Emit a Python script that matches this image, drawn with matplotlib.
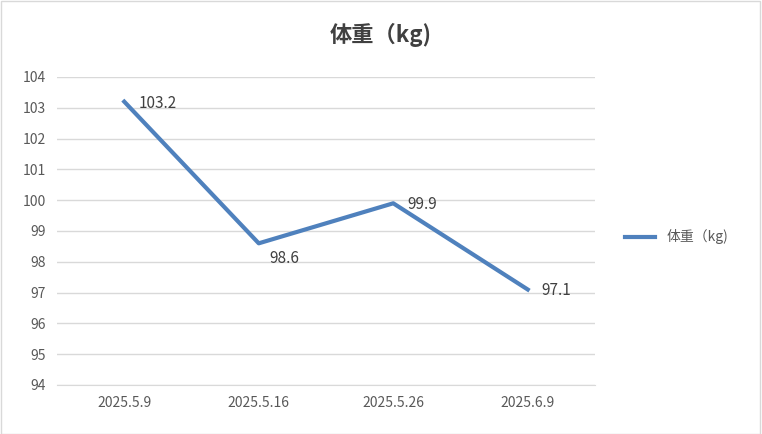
import matplotlib
matplotlib.use("Agg")
import matplotlib.pyplot as plt
from matplotlib.patches import Rectangle

plt.rcParams['font.family'] = ['Noto Sans CJK SC', 'DejaVu Sans']

dates = ['2025.5.9', '2025.5.16', '2025.5.26', '2025.6.9']
weights = [103.2, 98.6, 99.9, 97.1]
label_offsets = [(10, -1), (8, -11), (10, -1), (10, -1)]

fig = plt.figure(figsize=(7.62, 4.34), dpi=100)
fig.patches.append(Rectangle((0.001, 0.001), 0.997, 0.996, transform=fig.transFigure,
                             fill=False, edgecolor='#d9d9d9', linewidth=1))
ax = fig.add_axes([57 / 762, 49 / 434, 538 / 762, 308 / 434])

x = range(len(dates))
line, = ax.plot(x, weights, color='#4f81bd', linewidth=3, label='体重（kg)')
for i, w in enumerate(weights):
    ax.annotate(f'{w:.1f}', (i, w), xytext=label_offsets[i], textcoords='offset points',
                fontsize=11, color='#404040', va='center', ha='left')

ax.set_xlim(-0.5, len(dates) - 0.5)
ax.set_ylim(94, 104)
ax.set_yticks(range(94, 105))
ax.set_xticks(list(x))
ax.set_xticklabels(dates)
ax.grid(axis='y', color='#d9d9d9', linewidth=1)
ax.set_axisbelow(True)
for s in ['top', 'right', 'left']:
    ax.spines[s].set_visible(False)
ax.spines['bottom'].set_color('#d9d9d9')
ax.tick_params(length=0, labelsize=10, colors='#595959', pad=8)

fig.text(381 / 762, 1 - 35 / 434, '体重（kg)', ha='center', va='center',
         fontsize=16, fontweight='bold', color='#404040')
fig.legend(handles=[line], loc='center left', bbox_to_anchor=(612 / 762, 1 - 237 / 434),
           frameon=False, fontsize=10, labelcolor='#595959', handlelength=2.2)

fig.savefig('out.png', dpi=100)
